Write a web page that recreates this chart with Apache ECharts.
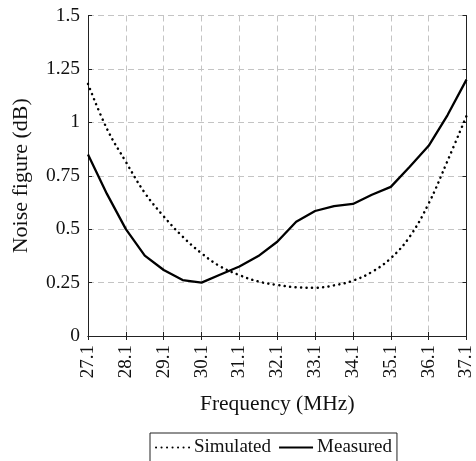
<!DOCTYPE html>
<html><head><meta charset="utf-8">
<script src="https://cdn.jsdelivr.net/npm/echarts@6/dist/echarts.min.js"></script>
<style>html,body{margin:0;padding:0;background:#fff}#c{width:476px;height:461px}</style>
</head><body><div id="c"></div>
<script>
const frequencies = ['27.1','27.6','28.1','28.6','29.1','29.6','30.1','30.6','31.1','31.6','32.1','32.6','33.1','33.6','34.1','34.6','35.1','35.6','36.1','36.6','37.1'];
const simulated = [1.18,0.97,0.815,0.67,0.56,0.465,0.387,0.325,0.285,0.255,0.239,0.228,0.226,0.237,0.259,0.30,0.364,0.465,0.62,0.82,1.03];
const measured  = [0.85,0.665,0.50,0.376,0.309,0.262,0.25,0.288,0.325,0.374,0.441,0.535,0.585,0.608,0.618,0.661,0.698,0.792,0.89,1.034,1.20];
const yTicks = {min:0, max:1.5, step:0.25};
const xTitle = 'Frequency (MHz)';
const yTitle = 'Noise figure (dB)';

const FONT = '"Liberation Serif", "DejaVu Serif", serif';
const chart = echarts.init(document.getElementById('c'), null, {renderer:'canvas'});
const axisLine = {show:true, lineStyle:{color:'#222', width:1}};
const tick = {show:true, inside:true, length:4, lineStyle:{color:'#222'}};
const split = {show:true, lineStyle:{color:'#c4c4c4', type:[6,4], width:1}};
chart.setOption({
  animation:false,
  backgroundColor:'#fff',
  textStyle:{fontFamily:FONT},
  grid:{left:88, right:8, top:15.5, bottom:125, containLabel:false},
  legend:{
    left:150, top:433, itemGap:7, itemWidth:34, itemHeight:10,
    padding:[5,5,12,5], borderColor:'#222', borderWidth:1, borderRadius:0,
    itemStyle:{opacity:0},
    textStyle:{fontFamily:FONT, fontSize:19, color:'#111', padding:[0,0,0,-1]},
    data:['Simulated','Measured']
  },
  xAxis:[{
    type:'category', data:frequencies, boundaryGap:false,
    name:xTitle, nameLocation:'middle', nameGap:57,
    nameTextStyle:{fontFamily:FONT, fontSize:21.5, color:'#111'},
    axisLine:axisLine,
    axisTick:Object.assign({}, tick, {interval:1, alignWithLabel:true}),
    axisLabel:{interval:1, rotate:90, margin:9, fontFamily:FONT, fontSize:19, color:'#111'},
    splitLine:Object.assign({}, split, {interval:1})
  },{
    type:'category', data:frequencies, boundaryGap:false, position:'top',
    axisLine:axisLine, axisTick:Object.assign({}, tick, {interval:1}),
    axisLabel:{show:false}, splitLine:{show:false}
  }],
  yAxis:[{
    type:'value', min:yTicks.min, max:yTicks.max, interval:yTicks.step,
    name:yTitle, nameLocation:'middle', nameGap:56,
    nameTextStyle:{fontFamily:FONT, fontSize:22, color:'#111'},
    axisLine:axisLine, axisTick:tick,
    axisLabel:{margin:8, fontFamily:FONT, fontSize:19.5, color:'#111'},
    splitLine:split
  },{
    type:'value', min:yTicks.min, max:yTicks.max, interval:yTicks.step, position:'right',
    axisLine:axisLine, axisTick:tick, axisLabel:{show:false}, splitLine:{show:false}
  }],
  series:[{
    name:'Simulated', type:'line', data:simulated, smooth:0.4, symbol:'none',
    lineStyle:{color:'#000', width:2.5, type:[0.1,5.4], cap:'round'},
    itemStyle:{color:'#000'}
  },{
    name:'Measured', type:'line', data:measured, symbol:'none',
    lineStyle:{color:'#000', width:2.3, type:'solid'},
    itemStyle:{color:'#000'}
  }]
});
</script></body></html>
